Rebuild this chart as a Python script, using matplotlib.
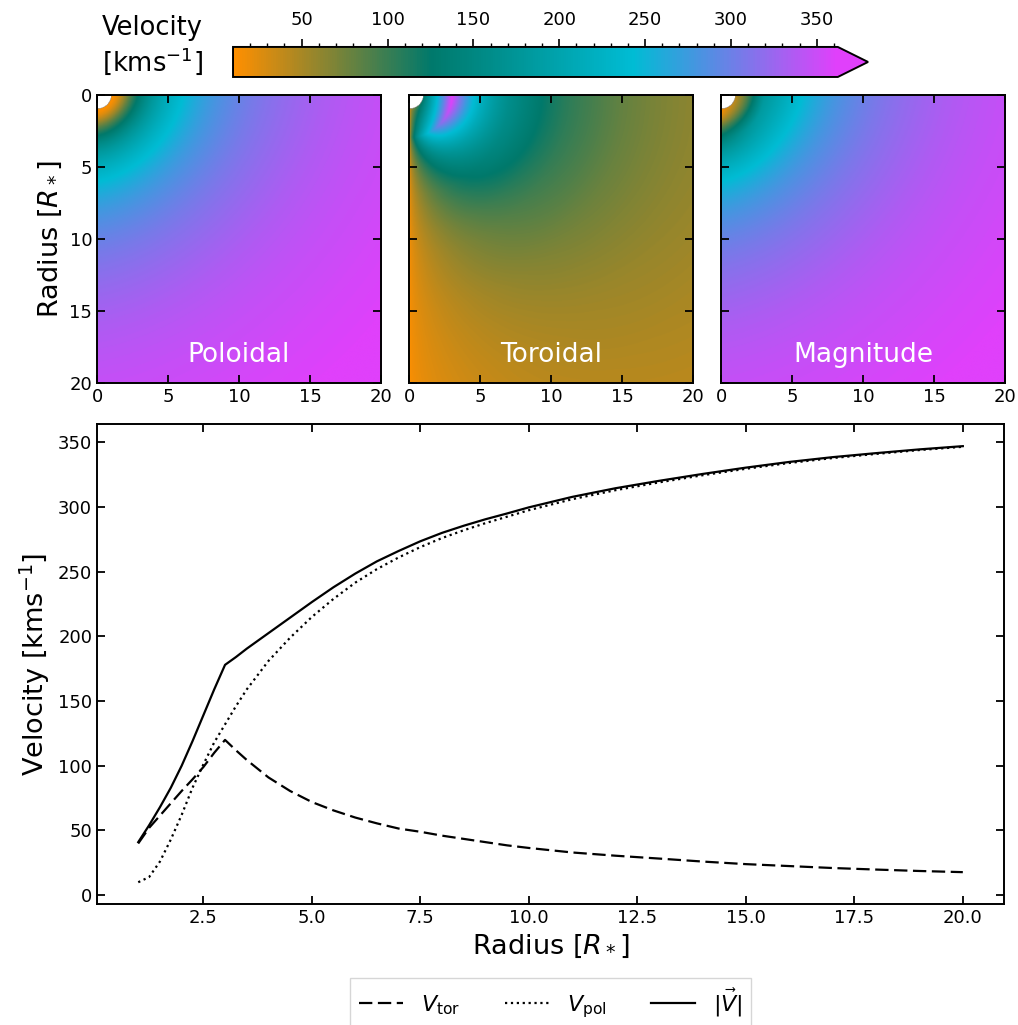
import numpy as np
import matplotlib
matplotlib.use("Agg")
import matplotlib.pyplot as plt
from matplotlib.colors import LinearSegmentedColormap
from matplotlib.ticker import MultipleLocator

# radial profiles
radius = [1.0, 1.25, 1.5, 1.75, 2.0, 2.25, 2.5, 2.75, 3.0, 3.25, 3.5, 4.0, 4.5,
          5.0, 5.5, 6.0, 6.5, 7.0, 7.5, 8.0, 8.5, 9.0, 9.5, 10.0, 11.0, 12.0,
          13.0, 14.0, 15.0, 16.0, 17.0, 18.0, 19.0, 20.0]
v_tor = [40, 52, 61.5, 71, 80.5, 89.5, 99, 110, 120, 112, 104.5, 91, 80.5,
         72, 65.5, 60, 55.5, 51.5, 49, 46, 43.5, 41, 38.5, 36.5, 33, 30.5,
         28.3, 26, 24, 22.5, 21, 19.8, 18.7, 17.8]
v_pol = [10, 14, 26, 43, 62, 83, 101, 118, 132, 146, 159, 181, 199,
         215, 229, 241.5, 252, 261, 269, 276, 282, 287.5, 292.5, 297.5, 306, 313,
         319, 324.5, 329.5, 334, 337.8, 341, 344, 346.5]
v_mag = [41, 54, 68, 83, 100, 119, 139, 159, 178, 184, 190.5, 202.5, 214.5,
         226.5, 238, 248.5, 258, 266, 273.5, 280, 285.5, 290.5, 295, 299.7, 307.8, 314.5,
         320.2, 325.5, 330.4, 334.8, 338.5, 341.6, 344.5, 347]

# values in the far corner of the maps (beyond r = 20)
radius_far = [24.0, 28.3]
v_tor_far = [15.0, 12.7]
v_pol_far = [355.0, 362.0]

panel_names = ["Poloidal", "Toroidal", "Magnitude"]
cbar_ticks = [50, 100, 150, 200, 250, 300, 350]

cmap = LinearSegmentedColormap.from_list(
    "vel", [(0.0, "#FF8F00"), (0.327, "#00796B"), (0.662, "#00BCD4"), (1.0, "#E040FB")])

# 2D maps in the meridional plane (x = cylindrical radius, z = height)
n = 500
grid = np.linspace(0, 20, n)
X, Z = np.meshgrid(grid, grid)
R = np.hypot(X, Z)
sin_t = X / np.maximum(R, 1e-9)
cos_t = Z / np.maximum(R, 1e-9)

r_all = np.array(radius + radius_far)
pol_all = np.array(v_pol + v_pol_far)
tor_all = np.array(v_tor + v_tor_far)

r_eff = R * (1 + 0.2 * sin_t * cos_t)
pol_map = np.interp(r_eff, r_all, pol_all)
tor_map = np.interp(R, r_all, tor_all) * np.sqrt(sin_t)
mag_map = np.hypot(pol_map, tor_map)
star = R < 1.0
maps = [np.ma.masked_where(star, m) for m in (pol_map, tor_map, mag_map)]

fig = plt.figure(figsize=(10.18, 10.25), dpi=100)

lefts = [0.0953, 0.4018, 0.7083]
images = []
for i, (name, m) in enumerate(zip(panel_names, maps)):
    ax = fig.add_axes([lefts[i], 0.6263, 0.279, 0.281])
    im = ax.imshow(m, cmap=cmap, extent=(0, 20, 20, 0), origin="upper",
                   aspect="auto", interpolation="bilinear")
    images.append(im)
    ax.set_xticks([0, 5, 10, 15, 20])
    ax.set_yticks([0, 5, 10, 15, 20])
    ax.tick_params(direction="in", top=True, right=True, length=6, width=1.3,
                   labelsize=13, labelleft=(i == 0))
    for s in ax.spines.values():
        s.set_linewidth(1.4)
    ax.text(0.5, 0.097, name, transform=ax.transAxes, ha="center", va="center",
            color="white", fontsize=19)
    if i == 0:
        ax.set_ylabel(r"Radius [$R_*$]", fontsize=19.5)

cax = fig.add_axes([0.2289, 0.9249, 0.6238, 0.0293])
cbar = fig.colorbar(images[2], cax=cax, orientation="horizontal", extend="max",
                    ticklocation="top")
cbar.set_ticks(cbar_ticks)
cbar.minorlocator = MultipleLocator(10)
cbar.outline.set_linewidth(1.4)
cax.tick_params(which="major", direction="out", length=6, width=1.2, labelsize=13,
                pad=7)
cax.tick_params(which="minor", direction="out", length=3, width=1.0)
fig.text(0.15, 0.955, "Velocity\n[kms$^{-1}$]", ha="center", va="center",
         fontsize=18.5, linespacing=1.2)

ax = fig.add_axes([0.0953, 0.118, 0.891, 0.468])
ax.plot(radius, v_tor, color="k", lw=1.6, ls=(0, (6, 2.5)), label=r"$V_{\rm tor}$")
ax.plot(radius, v_pol, color="k", lw=1.6, ls=":", label=r"$V_{\rm pol}$")
ax.plot(radius, v_mag, color="k", lw=1.6, ls="-", label=r"$|\vec{V}|$")
ax.tick_params(direction="in", top=True, right=True, length=6, width=1.3,
               labelsize=13)
for s in ax.spines.values():
    s.set_linewidth(1.4)
ax.set_xlabel(r"Radius [$R_*$]", fontsize=19.5)
ax.set_ylabel(r"Velocity [kms$^{-1}$]", fontsize=19.5)
ax.legend(loc="upper center", bbox_to_anchor=(0.5, -0.13), ncol=3,
          fontsize=16, columnspacing=2.0, fancybox=False)

fig.savefig("out.png", dpi=100)
